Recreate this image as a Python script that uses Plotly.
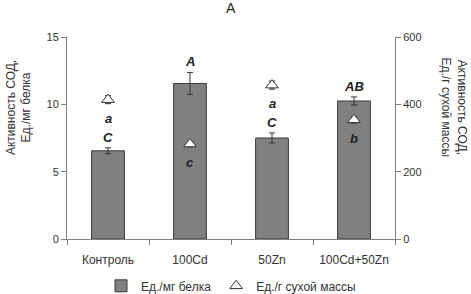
import plotly.graph_objects as go

categories = ["Контроль", "100Cd", "50Zn", "100Cd+50Zn"]
protein_vals = [6.55, 11.55, 7.5, 10.25]
protein_err = [0.22, 0.82, 0.37, 0.3]
protein_letters = ["C", "A", "C", "AB"]
dry_vals = [414, 282, 457, 354]
dry_err = [12, 8, 12, 10]
dry_letters = ["a", "c", "a", "b"]

font_family = "Liberation Sans, Arial, sans-serif"
txt_color = "#333333"
axis_color = "#7f7f7f"

fig = go.Figure()
fig.add_trace(go.Bar(
    x=categories, y=protein_vals, name="Ед./мг белка",
    marker=dict(color="#808080", line=dict(color="#3a3a3a", width=1)),
    error_y=dict(type="data", array=protein_err, color="#333333", thickness=1, width=3),
    width=0.4, yaxis="y",
))
fig.add_trace(go.Scatter(
    x=categories, y=dry_vals, name="Ед./г сухой массы", mode="markers",
    marker=dict(symbol="triangle-up", size=11, color="white",
                line=dict(color="#333333", width=1)),
    error_y=dict(type="data", array=dry_err, color="#333333", thickness=1, width=3),
    yaxis="y2",
))

annotations = []
for c, v, e, t in zip(categories, protein_vals, protein_err, protein_letters):
    annotations.append(dict(x=c, y=v + e, xref="x", yref="y", text=f"<b><i>{t}</i></b>",
                            showarrow=False, yanchor="bottom", yshift=1,
                            font=dict(size=13, color="#222222", family=font_family)))
for c, v, t in zip(categories, dry_vals, dry_letters):
    annotations.append(dict(x=c, y=v, xref="x", yref="y2", text=f"<b><i>{t}</i></b>",
                            showarrow=False, yanchor="top", yshift=-9,
                            font=dict(size=13, color="#222222", family=font_family)))
annotations.append(dict(x=0.5, y=1.0, xref="paper", yref="paper", yanchor="bottom", yshift=19,
                        text="А", showarrow=False,
                        font=dict(size=14, color="#222222", family=font_family)))
annotations.append(dict(x=-0.2, y=0.65, xref="paper", yref="paper", textangle=-90,
                        text="Активность СОД,<br>Ед./мг белка", showarrow=False,
                        font=dict(size=12, color=txt_color, family=font_family)))
annotations.append(dict(x=1.232, y=0.65, xref="paper", yref="paper", textangle=90,
                        text="Активность СОД,<br>Ед./г сухой массы", showarrow=False,
                        font=dict(size=12, color=txt_color, family=font_family)))

fig.update_layout(
    width=471, height=294,
    margin=dict(l=67, r=76, t=37, b=55, autoexpand=False),
    paper_bgcolor="white", plot_bgcolor="white",
    font=dict(family=font_family, size=11, color=txt_color),
    showlegend=True,
    legend=dict(orientation="h", x=0.5, xanchor="center", y=-0.16, yanchor="top",
                font=dict(size=12, color=txt_color), itemwidth=30, tracegroupgap=0),
    xaxis=dict(showline=True, linecolor=axis_color, ticks="outside", tickson="boundaries",
               ticklen=5, tickcolor=axis_color, tickfont=dict(size=12), showgrid=False,
               automargin=False, ticklabelstandoff=10),
    yaxis=dict(range=[0, 15], tickvals=[0, 5, 10, 15], showline=True, linecolor=axis_color,
               ticks="outside", ticklen=5, tickcolor=axis_color, showgrid=False, zeroline=False,
               automargin=False),
    yaxis2=dict(range=[0, 600], tickvals=[0, 200, 400, 600], overlaying="y", side="right",
                showline=True, linecolor=axis_color, ticks="outside", ticklen=5,
                tickcolor=axis_color, showgrid=False, zeroline=False, automargin=False),
    annotations=annotations,
)
fig.write_html("out.html", config={"displayModeBar": False},
               post_script="document.body.style.margin='0px';")
